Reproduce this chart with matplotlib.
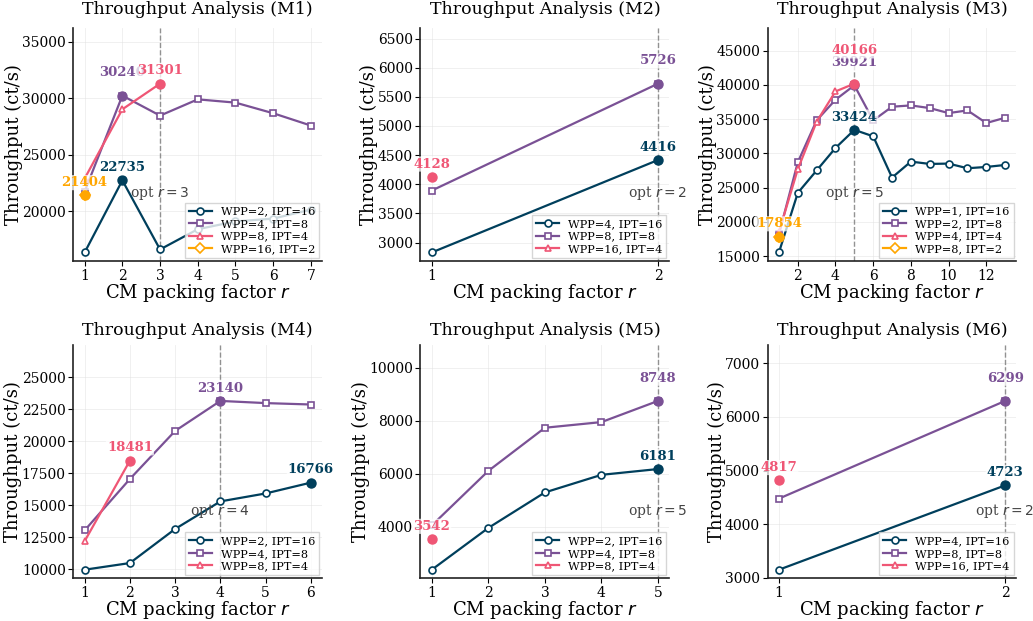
import matplotlib
matplotlib.use("Agg")
import matplotlib.pyplot as plt
from matplotlib.ticker import MultipleLocator, MaxNLocator

plt.rcParams['font.family'] = ['DejaVu Serif']
plt.rcParams['mathtext.fontset'] = 'dejavusans'

COLORS = ['#003f5c', '#7a5195', '#ef5675', '#ffa600']
MARKERS = ['o', 's', '^', 'D']

# ---- data ----
m1_labels = ["WPP=2, IPT=16", "WPP=4, IPT=8", "WPP=8, IPT=4", "WPP=16, IPT=2"]
m1_r = [[1, 2, 3, 4, 5, 6, 7], [1, 2, 3, 4, 5, 6, 7], [1, 2, 3], [1]]
m1_v = [[16353, 22735, 16618, 18410, 19100, 19350, 20147],
        [21750, 30240, 28470, 29910, 29620, 28680, 27590],
        [22900, 29030, 31301],
        [21404]]

m2_labels = ["WPP=4, IPT=16", "WPP=8, IPT=8", "WPP=16, IPT=4"]
m2_r = [[1, 2], [1, 2], [1]]
m2_v = [[2830, 4416], [3892, 5726], [4128]]

m3_labels = ["WPP=1, IPT=16", "WPP=2, IPT=8", "WPP=4, IPT=4", "WPP=8, IPT=2"]
m3_r = [list(range(1, 14)), list(range(1, 14)), [1, 2, 3, 4, 5], [1]]
m3_v = [[15534, 24223, 27500, 30780, 33424, 32480, 26460, 28790, 28450, 28500, 27820, 28010, 28300],
        [18200, 28690, 34800, 37820, 39921, 34800, 36800, 36990, 36600, 35870, 36260, 34420, 35190],
        [18500, 27670, 34610, 39030, 40166],
        [17854]]

m4_labels = ["WPP=2, IPT=16", "WPP=4, IPT=8", "WPP=8, IPT=4"]
m4_r = [[1, 2, 3, 4, 5, 6], [1, 2, 3, 4, 5, 6], [1, 2]]
m4_v = [[9970, 10490, 13150, 15300, 15920, 16766],
        [13040, 17050, 20800, 23140, 22970, 22860],
        [12200, 18481]]

m5_labels = ["WPP=2, IPT=16", "WPP=4, IPT=8", "WPP=8, IPT=4"]
m5_r = [[1, 2, 3, 4, 5], [1, 2, 3, 4, 5], [1]]
m5_v = [[2388, 3963, 5300, 5963, 6181],
        [4057, 6112, 7737, 7950, 8748],
        [3542]]

m6_labels = ["WPP=4, IPT=16", "WPP=8, IPT=8", "WPP=16, IPT=4"]
m6_r = [[1, 2], [1, 2], [1]]
m6_v = [[3149, 4723], [4476, 6299], [4817]]

panels = [
    ("M1", m1_labels, m1_r, m1_v, 5000),
    ("M2", m2_labels, m2_r, m2_v, 500),
    ("M3", m3_labels, m3_r, m3_v, 5000),
    ("M4", m4_labels, m4_r, m4_v, 2500),
    ("M5", m5_labels, m5_r, m5_v, 2000),
    ("M6", m6_labels, m6_r, m6_v, 1000),
]

fig, axes = plt.subplots(2, 3, figsize=(10.33, 6.21), dpi=100)
fig.subplots_adjust(left=0.071, right=0.984, top=0.955, bottom=0.069,
                    wspace=0.395, hspace=0.362)

for idx, (ax, (name, labels, rs, vs, ystep)) in enumerate(zip(axes.flat, panels)):
    best_r, best_v = None, -1
    allv = []
    stack = {}
    for i, (lab, r, v) in enumerate(zip(labels, rs, vs)):
        c = COLORS[i]
        ax.plot(r, v, color=c, marker=MARKERS[i], markersize=5,
                markerfacecolor='white', markeredgecolor=c, markeredgewidth=1.2,
                linewidth=1.6, label=lab, zorder=3)
        k = max(range(len(v)), key=lambda j: v[j])
        ax.plot([r[k]], [v[k]], marker='o', markersize=6.5, color=c,
                linestyle='none', zorder=4)
        n = stack.get(r[k], 0)
        stack[r[k]] = n + 1
        ax.annotate(f"{v[k]}", (r[k], v[k]), xytext=(0, 4.5 + 7.2 * n),
                    textcoords='offset points',
                    ha='center', va='bottom', fontsize=9.5, fontweight='bold', color=c,
                    zorder=6,
                    bbox=dict(boxstyle='round,pad=0.08', fc='white', ec='none', alpha=0.75))
        if v[k] > best_v:
            best_v, best_r = v[k], r[k]
        allv += v
    lo, hi = min(allv), max(allv)
    rng = hi - lo
    ax.set_ylim(lo - 0.05 * rng, hi + 0.33 * rng)
    ax.axvline(best_r, color='gray', linestyle='--', linewidth=1.0, alpha=0.85, zorder=2)
    ax.text(best_r, 0.29, f"opt $r = {best_r}$", transform=ax.get_xaxis_transform(),
            ha='center', va='center', fontsize=10, color='#444444', zorder=7)
    ax.set_title(f"Throughput Analysis ({name})", fontsize=12.5,
                 pad=10 if idx < 3 else 7)
    ax.set_xlabel("CM packing factor $r$", fontsize=13, labelpad=-0.5)
    ax.set_ylabel("Throughput (ct/s)", fontsize=13, labelpad=-0.5)
    ax.yaxis.set_major_locator(MultipleLocator(ystep))
    ax.xaxis.set_major_locator(MaxNLocator(integer=True))
    ax.tick_params(labelsize=10, pad=2)
    ax.grid(True, color='#dddddd', linewidth=0.6, alpha=0.5)
    for s in ['top', 'right']:
        ax.spines[s].set_visible(False)
    for s in ['left', 'bottom']:
        ax.spines[s].set_linewidth(1.2)
        ax.spines[s].set_color('#222222')
    ax.legend(loc='lower right', fontsize=8.2, framealpha=0.8, edgecolor='#cccccc',
              fancybox=False, borderpad=0.35, labelspacing=0.22, handlelength=2.0,
              borderaxespad=0.25)

fig.savefig("out.png", dpi=100)
